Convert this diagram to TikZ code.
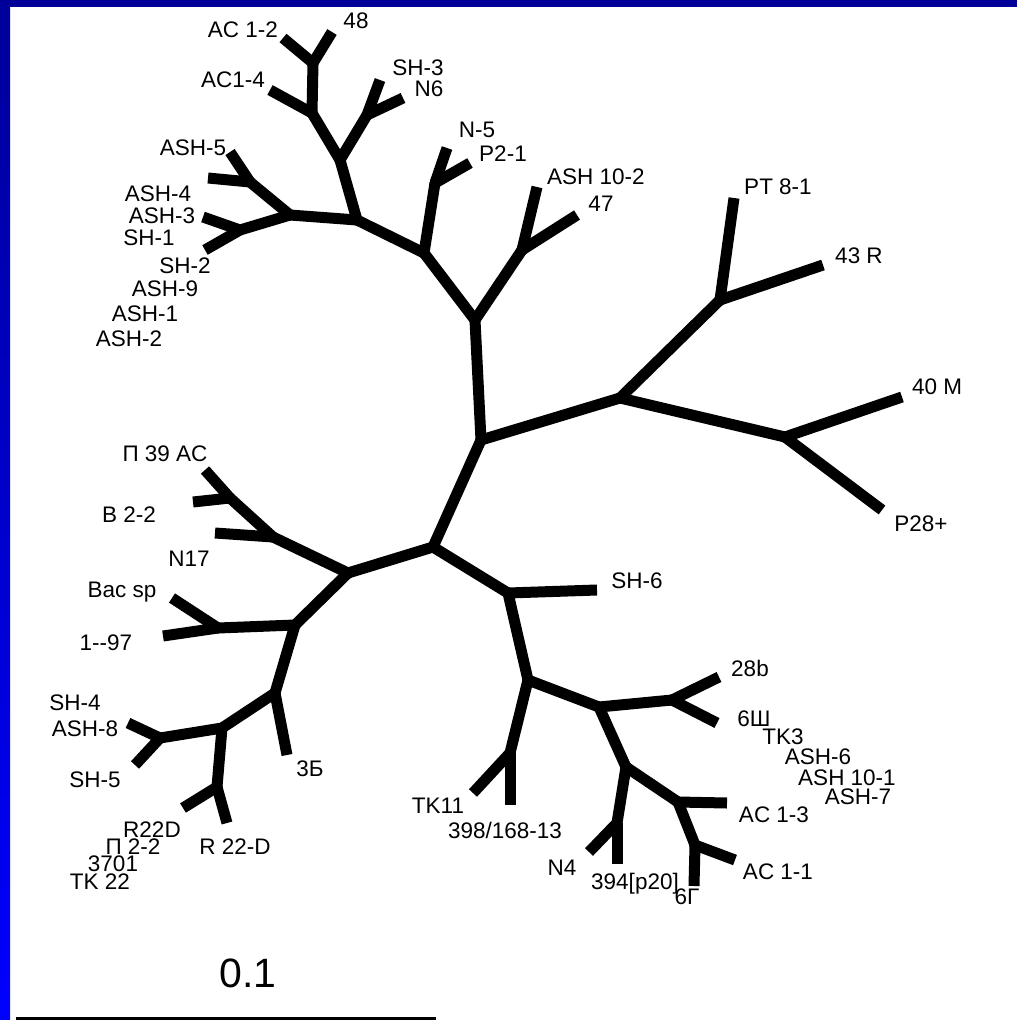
\documentclass[tikz,border=0pt]{standalone}
\usepackage{fontspec}
\setmainfont{Liberation Sans}
\definecolor{navytop}{RGB}{0,0,153}
\definecolor{bluebot}{RGB}{0,0,255}
\begin{document}
\begin{tikzpicture}[x=1pt,y=-1pt,
  br/.style={line width=11pt, line cap=butt},
  jn/.style={fill=black},
  lab/.style={font=\fontsize{22.5}{22.5}\selectfont, inner sep=0pt, text=black},
]
\useasboundingbox (0,0) rectangle (1017,1020);
\fill[white] (0,0) rectangle (1017,1020);
\fill[navytop] (0,0) rectangle (1017,7);
\shade[top color=navytop, bottom color=bluebot] (0,0) rectangle (10,1020);

% ---------- internal nodes ----------
\coordinate (A) at (481,440);
\coordinate (B) at (475,320);
\coordinate (C) at (620,398);
\coordinate (D) at (433,547);
\coordinate (E) at (424,253);
\coordinate (F) at (522,250);
\coordinate (G) at (435,183);
\coordinate (H) at (357,220);
\coordinate (I) at (340,160);
\coordinate (J) at (290,215);
\coordinate (K) at (312,113);
\coordinate (L) at (367,115);
\coordinate (M) at (313,63);
\coordinate (N) at (250,182);
\coordinate (O) at (240,230);
\coordinate (P) at (720,300);
\coordinate (Q) at (785,437);
\coordinate (R) at (348,573);
\coordinate (S) at (508,593);
\coordinate (T) at (273,537);
\coordinate (J1) at (230,498);
\coordinate (U) at (295,625);
\coordinate (V) at (218,628);
\coordinate (W) at (275,693);
\coordinate (X) at (222,728);
\coordinate (Y) at (160,738);
\coordinate (Z) at (217,787);
\coordinate (S2) at (528,680);
\coordinate (S3) at (510,753);
\coordinate (S4) at (599,707);
\coordinate (S5) at (672,700);
\coordinate (S6) at (626,767);
\coordinate (S7) at (617,823);
\coordinate (S8) at (678,802);
\coordinate (S9) at (695,845);

% ---------- tips ----------
\coordinate (tash102) at (537,187);
\coordinate (t47) at (577,215);
\coordinate (tn5) at (447,148);
\coordinate (tp21) at (470,163);
\coordinate (tsh3) at (380,80);
\coordinate (tn6) at (403,98);
\coordinate (tac14) at (270,90);
\coordinate (tac12) at (283,38);
\coordinate (t48) at (332,32);
\coordinate (tash5) at (230,152);
\coordinate (tash4) at (208,178);
\coordinate (tash3) at (203,217);
\coordinate (tsh1) at (205,250);
\coordinate (tpt81) at (734,198);
\coordinate (t43r) at (823,265);
\coordinate (t40m) at (902,397);
\coordinate (tp28) at (882,510);
\coordinate (tn17) at (215,533);
\coordinate (tp39) at (205,470);
\coordinate (tb22) at (193,502);
\coordinate (tbac) at (172,598);
\coordinate (t197) at (163,636);
\coordinate (t3b) at (287,755);
\coordinate (tsh4) at (128,723);
\coordinate (tsh5) at (135,765);
\coordinate (tr22d) at (183,808);
\coordinate (tr22dd) at (227,823);
\coordinate (tsh6) at (597,590);
\coordinate (ttk11) at (473,793);
\coordinate (t398) at (510,805);
\coordinate (t28b) at (719,677);
\coordinate (t6sh) at (717,723);
\coordinate (tn4) at (589,852);
\coordinate (t394) at (617,864);
\coordinate (tac13) at (727,803);
\coordinate (tac11) at (735,860);
\coordinate (t6g) at (694,886);

% ---------- branches ----------
\foreach \p/\c in {A/B,A/C,A/D,B/E,B/F,F/tash102,F/t47,E/G,E/H,G/tn5,G/tp21,
  H/I,H/J,I/K,I/L,L/tsh3,L/tn6,K/tac14,K/M,M/tac12,M/t48,J/N,J/O,
  N/tash5,N/tash4,O/tash3,O/tsh1,C/P,C/Q,P/tpt81,P/t43r,Q/t40m,Q/tp28,
  D/R,D/S,R/T,R/U,T/J1,T/tn17,J1/tp39,J1/tb22,U/V,U/W,V/tbac,V/t197,
  W/t3b,W/X,X/Y,X/Z,Y/tsh4,Y/tsh5,Z/tr22d,Z/tr22dd,
  S/tsh6,S/S2,S2/S3,S2/S4,S3/ttk11,S3/t398,S4/S5,S4/S6,S5/t28b,S5/t6sh,
  S6/S7,S6/S8,S7/tn4,S7/t394,S8/tac13,S8/S9,S9/tac11,S9/t6g}
  \draw[br] (\p) -- (\c);
\foreach \n in {A,B,C,D,E,F,G,H,I,J,K,L,M,N,O,P,Q,R,S,T,J1,U,V,W,X,Y,Z,S2,S3,S4,S5,S6,S7,S8,S9}
  \fill[jn] (\n) circle (5.5);

% ---------- labels ----------
\node[lab] (lac12) at (243,30) {AC 1-2};
\node[lab] (l48) at (356,21) {48};
\node[lab] (lac14) at (233,80) {AC1-4};
\node[lab] (lsh3) at (418,68) {SH-3};
\node[lab] (ln6) at (429,89) {N6};
\node[lab] (ln5) at (477,130) {N-5};
\node[lab] (lp21) at (503,154) {P2-1};
\node[lab] (lash102) at (596,177) {ASH 10-2};
\node[lab] (l47) at (601,204) {47};
\node[lab] (lash5) at (193,148) {ASH-5};
\node[lab] (lash4) at (158,194) {ASH-4};
\node[lab] (lash3) at (162,216) {ASH-3};
\node[lab] (lsh1) at (149,238) {SH-1};
\node[lab] (lsh2) at (185,266) {SH-2};
\node[lab] (lash9) at (165,289) {ASH-9};
\node[lab] (lash1) at (145,314) {ASH-1};
\node[lab] (lash2) at (129,339) {ASH-2};
\node[lab] (lpt81) at (778,187) {PT 8-1};
\node[lab] (l43r) at (859,256) {43 R};
\node[lab] (l40m) at (937,387) {40 M};
\node[lab] (lp28) at (921,524) {P28+};
\node[lab] (lp39) at (165,454) {П 39 AC};
\node[lab] (lb22) at (129,515) {B 2-2};
\node[lab] (ln17) at (189,559) {N17};
\node[lab] (lbac) at (122,592) {Bac sp};
\node[lab] (l197) at (106,643) {1-{}-97};
\node[lab] (lsh4) at (75,703) {SH-4};
\node[lab] (lash8) at (85,729) {ASH-8};
\node[lab] (lsh5) at (95,780) {SH-5};
\node[lab] (l3b) at (310,769) {3Б};
\node[lab] (lr22d) at (152,830) {R22D};
\node[lab] (lp22) at (133,847) {П 2-2};
\node[lab] (l3701) at (113,864) {3701};
\node[lab] (ltk22) at (100,882) {TK 22};
\node[lab] (lr22dd) at (235,847) {R 22-D};
\node[lab] (lsh6) at (637,581) {SH-6};
\node[lab] (l28b) at (750,668) {28b};
\node[lab] (l6sh) at (754,719) {6Ш};
\node[lab] (ltk3) at (783,737) {TK3};
\node[lab] (lash6) at (818,757) {ASH-6};
\node[lab] (lash101) at (847,778) {ASH 10-1};
\node[lab] (lash7) at (858,797) {ASH-7};
\node[lab] (lac13) at (774,815) {AC 1-3};
\node[lab] (lac11) at (778,872) {AC 1-1};
\node[lab] (ltk11) at (438,806) {TK11};
\node[lab] (l398) at (505,830) {398/168-13};
\node[lab] (ln4) at (562,868) {N4};
\node[lab] (l394) at (635,884) {394[p20]};
\node[lab] (l6g) at (687,897) {6Г};

% ---------- scale bar ----------
\node[font=\fontsize{41}{41}\selectfont, inner sep=0pt] (scalelab) at (248,973) {0.1};
\coordinate (barL) at (16,1017);
\coordinate (barR) at (436,1026);
\fill[black] (barL) rectangle (barR);
\end{tikzpicture}
\end{document}
